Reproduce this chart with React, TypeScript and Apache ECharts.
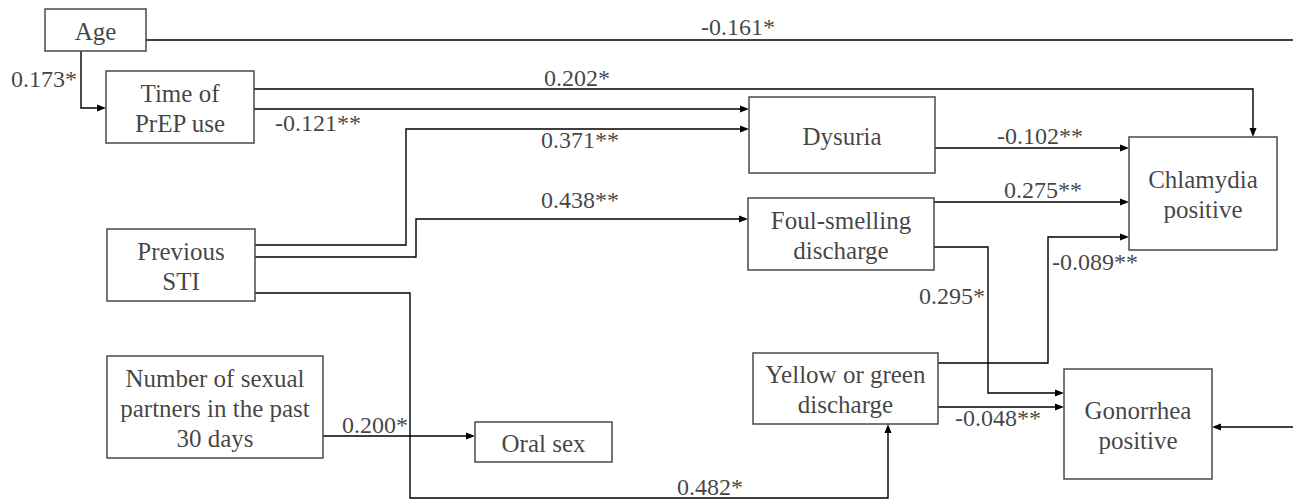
import React, { useEffect, useRef } from "react";
import * as echarts from "echarts";

// Diagram space: 1293 x 499 units (x to the right, y downward)
const nodeNames = [
  "Age",
  "Time of\nPrEP use",
  "Previous\nSTI",
  "Number of sexual\npartners in the past\n30 days",
  "Oral sex",
  "Dysuria",
  "Foul-smelling\ndischarge",
  "Yellow or green\ndischarge",
  "Chlamydia\npositive",
  "Gonorrhea\npositive",
];
// box extents [x0, y0, x1, y1] in diagram units
const nodeBoxes: number[][] = [
  [45, 9, 146, 51],
  [106, 71, 254, 143],
  [107, 229, 255, 301],
  [107, 356, 323, 458],
  [475, 422, 612, 462],
  [749, 97, 935, 173],
  [748, 198, 934, 270],
  [753, 353, 938, 424],
  [1129, 137, 1277, 250],
  [1064, 369, 1212, 479],
];

// edge routes (waypoints in diagram units) and whether they end in an arrow
const edgeRoutes: number[][][] = [
  [[146, 40], [1293, 40]],
  [[81, 51], [81, 108], [106, 108]],
  [[254, 89], [1253, 89], [1253, 137]],
  [[254, 109], [749, 109]],
  [[255, 245], [406, 245], [406, 129], [749, 129]],
  [[255, 257], [416, 257], [416, 219], [748, 219]],
  [[255, 293], [410, 293], [410, 498], [888, 498], [888, 424]],
  [[323, 436], [475, 436]],
  [[935, 148], [1129, 148]],
  [[934, 202], [1129, 202]],
  [[934, 247], [988, 247], [988, 393], [1064, 393]],
  [[938, 363], [1048, 363], [1048, 237], [1129, 237]],
  [[938, 407], [1064, 407]],
  [[1293, 427], [1212, 427]],
];
const edgeArrow = [false, true, true, true, true, true, true, true, true, true, true, true, true, true];

// path coefficients and their anchor points
const coefTexts = [
  "-0.161*", "0.173*", "0.202*", "-0.121**", "0.371**", "0.438**", "-0.102**",
  "0.275**", "-0.089**", "0.295*", "0.200*", "-0.048**", "0.482*",
];
const coefPos: number[][] = [
  [738, 27], [44, 79], [577, 78], [318, 123], [580, 140], [580, 200], [1040, 136],
  [1043, 190], [1095, 262], [952, 296], [375, 425], [998, 418], [710, 487],
];

const FAMILY = "Liberation Serif";

export default function App() {
  const ref = useRef<HTMLDivElement>(null);
  useEffect(() => {
    document.body.style.margin = "0";
    const chart = echarts.init(ref.current!, null, { renderer: "svg" });
    const option: any = {
      animation: false,
      backgroundColor: "#ffffff",
      textStyle: { fontFamily: FAMILY },
      grid: { left: 0, right: 0, top: 0, bottom: 0 },
      xAxis: { type: "value", min: 0, max: 1293, show: false },
      yAxis: { type: "value", min: 0, max: 499, inverse: true, show: false },
      series: [
        {
          type: "custom",
          name: "edges",
          coordinateSystem: "cartesian2d",
          silent: true,
          z: 1,
          data: edgeRoutes.map((r, i) => [r[0][0], r[0][1], i]),
          renderItem: (params: any, api: any) => {
            const i = api.value(2);
            const pts = edgeRoutes[i].map((p) => api.coord(p));
            const children: any[] = [];
            const linePts = pts.slice();
            if (edgeArrow[i]) {
              const a = pts[pts.length - 2];
              const b = pts[pts.length - 1];
              const dx = b[0] - a[0];
              const dy = b[1] - a[1];
              const len = Math.sqrt(dx * dx + dy * dy) || 1;
              const ux = dx / len;
              const uy = dy / len;
              const L = 9;
              const W = 3.5;
              const base = [b[0] - ux * L, b[1] - uy * L];
              linePts[linePts.length - 1] = [b[0] - ux * 4, b[1] - uy * 4];
              children.push({
                type: "polygon",
                shape: {
                  points: [
                    b,
                    [base[0] - uy * W, base[1] + ux * W],
                    [base[0] + uy * W, base[1] - ux * W],
                  ],
                },
                style: { fill: "#000" },
              });
            }
            children.unshift({
              type: "polyline",
              shape: { points: linePts },
              style: { stroke: "#000", lineWidth: 1.4, fill: "none" },
            });
            return { type: "group", children };
          },
        },
        {
          type: "custom",
          name: "nodes",
          coordinateSystem: "cartesian2d",
          silent: true,
          z: 2,
          data: nodeBoxes.map((b, i) => [b[0], b[1], i]),
          renderItem: (params: any, api: any) => {
            const i = api.value(2);
            const b = nodeBoxes[i];
            const p0 = api.coord([b[0], b[1]]);
            const p1 = api.coord([b[2], b[3]]);
            return {
              type: "rect",
              shape: { x: p0[0], y: p0[1], width: p1[0] - p0[0], height: p1[1] - p0[1] },
              style: { fill: "#fff", stroke: "#4a4a4a", lineWidth: 1.5 },
            };
          },
        },
        {
          type: "scatter",
          name: "node labels",
          silent: true,
          z: 3,
          symbolSize: 0,
          data: nodeBoxes.map((b, i) => ({
            name: nodeNames[i],
            value: [(b[0] + b[2]) / 2, (b[1] + b[3]) / 2 + 1],
          })),
          label: {
            show: true,
            position: "inside",
            formatter: (p: any) => p.name,
            fontFamily: FAMILY,
            fontSize: 25,
            lineHeight: 30,
            color: "#111",
            align: "center",
            verticalAlign: "middle",
          },
        },
        {
          type: "scatter",
          name: "coefficients",
          silent: true,
          z: 3,
          symbolSize: 0,
          data: coefPos.map((p, i) => ({ name: coefTexts[i], value: p })),
          label: {
            show: true,
            position: "inside",
            formatter: (p: any) => p.name,
            fontFamily: FAMILY,
            fontSize: 24,
            color: "#111",
            align: "center",
            verticalAlign: "middle",
          },
        },
      ],
    };
    chart.setOption(option);
    return () => chart.dispose();
  }, []);
  return <div ref={ref} style={{ width: 1293, height: 499 }} />;
}
